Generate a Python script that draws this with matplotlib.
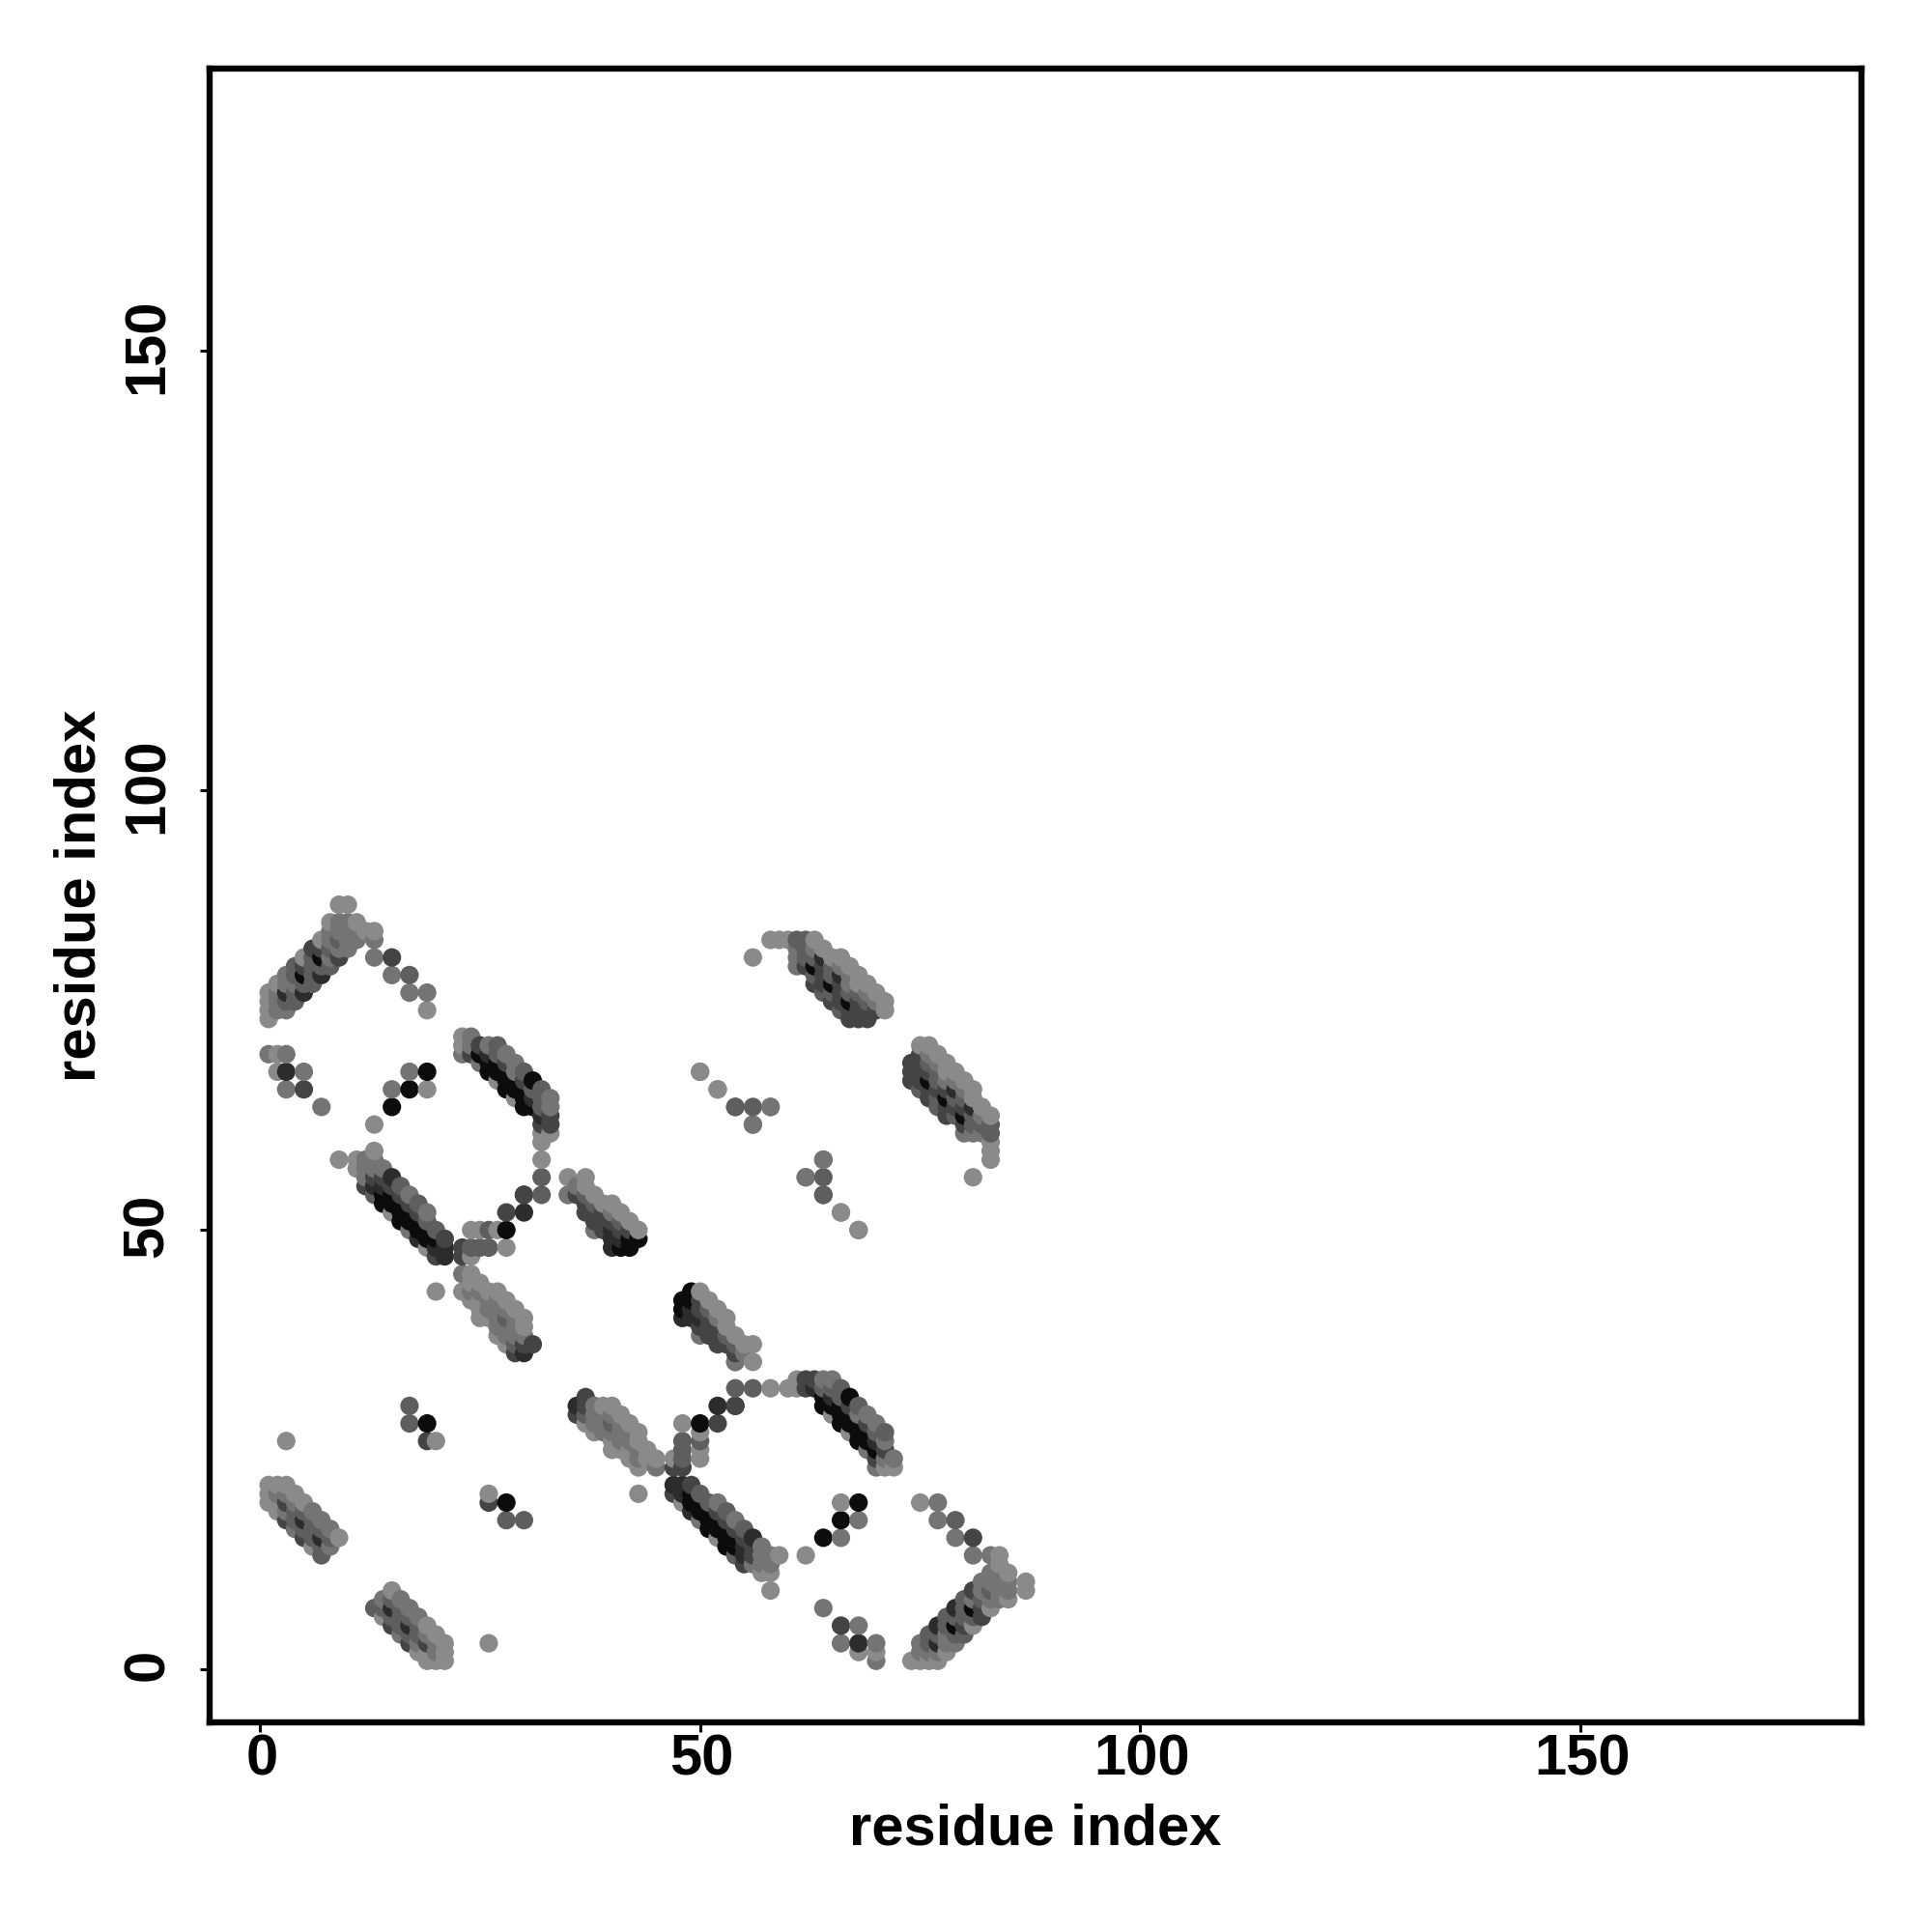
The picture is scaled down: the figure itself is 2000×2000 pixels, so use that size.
import matplotlib
matplotlib.use("Agg")
import matplotlib.pyplot as plt
from matplotlib.transforms import ScaledTranslation
import numpy as np

# contacts, (i, j), grouped by grey level.
# The map is symmetric so each contact only appears once here.
grey_12 = [(51,16),(53,14),(49,19),(49,20),(50,18),(50,19),(51,17),(51,18),(52,16),(52,17),(53,15),(53,16),(54,14),(54,15),
           (64,30),(64,31),(65,30),(66,28),(66,29),(66,30),(67,28),(67,29),(67,31),(68,26),(68,27),(68,28),(69,26),(69,27),(70,25),
           (48,41),(48,42),(49,42),(49,43),(50,28),(28,19),(68,19),(66,17),(64,15),
           (63,80),(65,78),(67,76),(79,5),(81,7)]
grey_44 = [(47,21),(48,20),(48,21),(49,18),(55,13),(55,14),(56,15),(63,32),(65,31),(70,26),(36,30),
           (48,40),(49,40),(49,41),(50,40),(15,7),(17,5),(77,5),(79,7),(77,3),(64,81),(66,79),(68,3),(52,30),(30,54)]
grey_68 = [(47,20),(49,21),(52,18),(53,17),(54,16),(55,15),(55,12),(56,13),(56,14),
           (62,33),(63,33),(62,32),(67,30),(69,28),(70,24),(71,25),(36,29),(37,30),(37,31),(47,23),(48,23),(52,28),(54,30),
           (50,39),(50,41),(50,42),(51,38),(51,39),(51,40),(52,37),(52,38),(52,39),(53,37),(54,36),
           (15,5),(17,3),(19,3),(81,9),(80,5),(82,7),(82,6),
           (63,78),(65,76),(67,74),(62,80),(64,78),(66,76),(67,75),(68,74),(64,79),(66,77),(68,75),(69,74),(64,80),(66,78),(68,76),(69,75),(70,75),
           (66,5),(81,15),(26,19)]
grey_94 = [(50,20),(51,19),(53,18),(54,13),(55,16),(64,32),(65,32),(66,31),(66,32),(68,30),(70,27),(71,27),
           (37,29),(40,28),(48,24),(48,25),(48,26),(50,26),(54,32),(56,32),(51,41),(53,38),(54,37),
           (13,7),(14,7),(15,6),(15,8),(16,5),(16,6),(16,7),(17,4),(17,6),(18,4),(18,5),
           (78,6),(80,8),(76,4),(76,3),(77,4),(78,5),(79,6),(80,7),(80,6),(82,8),(83,9),(79,4),(81,6),(80,4),
           (64,77),(66,75),(63,79),(65,77),(62,81),(61,83),(62,82),(63,81),(65,79),(67,77),(62,83),(65,80),(68,77),(69,76),
           (64,54),(64,56),(54,64),(79,17),(30,17),(28,17)]
grey_116 = [(50,17),(52,19),(54,17),(56,12),(57,12),(58,12),(57,13),(57,14),(58,13),
            (64,33),(65,33),(68,29),(69,25),(69,29),(70,23),(70,28),(71,24),(71,26),(72,24),(45,23),
            (38,28),(38,29),(38,30),(39,27),(39,28),(39,29),(40,27),(40,29),(41,26),(41,27),(41,28),(42,26),(42,27),(43,24),(43,25),
            (50,38),(52,40),(54,35),(54,35),(55,36),
            (14,8),(16,4),(16,8),(17,7),(18,3),(18,6),(19,4),(20,2),(20,3),
            (75,3),(82,10),(83,11),(75,2),(81,8),(82,9),(83,10),(84,11),(76,2),(78,4),(84,10),(77,2),(78,3),(83,8),(84,9),(85,10),(79,3),(84,8),(85,9),
            (61,80),(61,81),(61,82),(63,82),(67,78),(66,80),(67,79),(69,77),(70,76),
            (68,17),(66,15),(64,7),(68,5),(66,3),(70,3),(70,1),(77,19),(77,17),(79,15),(81,13),(83,13),(64,58),(62,56),(58,64),(56,62)]
grey_138 = [(48,19),(52,15),(57,11),(58,11),(59,13),(58,9),(60,32),(61,32),(58,32),(61,33),(65,29),(67,27),(71,23),(72,23),
            (37,28),(38,27),(39,30),(40,25),(40,26),(40,30),(41,25),(41,29),(42,24),(42,25),(42,28),(43,23),(43,26),(43,27),(44,24),(44,25),(45,24),
            (47,24),(48,28),(50,24),(50,25),(50,27),(43,20),
            (50,43),(51,42),(52,41),(53,39),(53,40),(54,38),(55,37),(56,35),(56,37),
            (14,6),(15,9),(18,2),(19,1),(19,2),(19,5),(20,1),(20,4),(21,1),(21,2),(21,3),
            (74,1),(75,1),(76,1),(77,1),(78,2),(81,5),(83,7),(84,12),(85,11),(85,8),(87,9),(87,10),(84,13),
            (58,83),(59,83),(60,83),(63,83),(64,82),(65,81),(68,78),(71,75),(66,81),(67,80),(68,79),(69,78),(70,77),(71,76),
            (66,19),(62,13),(68,2),(70,2),(75,19),(26,20),(26,3),(81,56),(50,68),(52,66),(68,50),(66,52)]

tick_values = [0, 50, 100, 150]
axis_label = "residue index"

levels = [(12, grey_12), (44, grey_44), (68, grey_68), (94, grey_94), (116, grey_116), (138, grey_138)]
x = []
y = []
g = []
for level, pairs in levels:
    for a, b in pairs:
        x += [a, b]
        y += [b, a]
        g += [level, level]
x = np.array(x)
y = np.array(y)
g = np.array(g) / 255.0

# later residues end up on top, like a double loop over i and j
order = np.lexsort((y, x))

plt.rcParams['font.family'] = ['Liberation Sans', 'DejaVu Sans']

fig = plt.figure(figsize=(20, 20), dpi=100)
ax = fig.add_axes([217/2000, 1 - 1783/2000, (1927-217)/2000, (1783-71)/2000])
ax.scatter(x[order], y[order], s=190, c=np.column_stack([g[order]]*3), linewidths=0, zorder=2)

ax.set_xlim(-5.7, 181.9)
ax.set_ylim(-6.0, 182.1)
ax.set_xticks(tick_values)
ax.set_yticks(tick_values)
for side in ax.spines.values():
    side.set_linewidth(4.6)
ax.tick_params(axis='both', length=7, width=2.2, labelsize=43, pad=1.5)
ax.tick_params(axis='y', pad=19)
for label in ax.get_xticklabels() + ax.get_yticklabels():
    label.set_fontweight('bold')
for label in ax.get_yticklabels():
    label.set_rotation(90)
    label.set_va('center')
    # rotated labels sit a little low, nudge them back onto the tick
    label.set_transform(label.get_transform() + ScaledTranslation(0, 5/100, fig.dpi_scale_trans))
for label in ax.get_xticklabels():
    label.set_transform(label.get_transform() + ScaledTranslation(2/100, 0, fig.dpi_scale_trans))

ax.set_xlabel(axis_label, fontsize=43, fontweight='bold', va='baseline')
ax.set_ylabel(axis_label, fontsize=43, fontweight='bold', va='baseline')
ax.xaxis.set_label_coords(0.5, (1783-1909)/1712)
ax.yaxis.set_label_coords((99-217)/1710, 0.5)

fig.savefig("out.png", dpi=100)
